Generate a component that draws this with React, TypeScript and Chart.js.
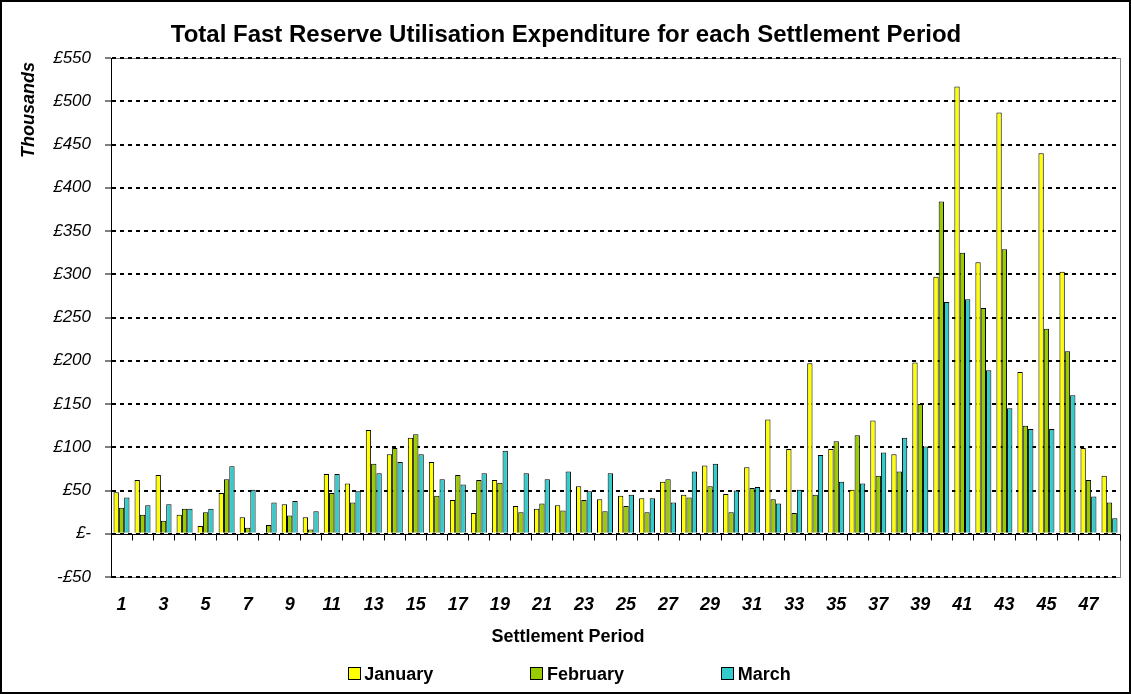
import React, { useEffect, useRef } from 'react';
import { Chart, registerables } from 'chart.js';

Chart.register(...registerables);

const FONT = "'Liberation Sans', Arial, Helvetica, sans-serif";

const chartTitle = 'Total Fast Reserve Utilisation Expenditure for each Settlement Period';
const xAxisTitle = 'Settlement Period';
const yAxisTitle = 'Thousands';

const periods = [
  '1', '2', '3', '4', '5', '6', '7', '8', '9', '10', '11', '12',
  '13', '14', '15', '16', '17', '18', '19', '20', '21', '22', '23', '24',
  '25', '26', '27', '28', '29', '30', '31', '32', '33', '34', '35', '36',
  '37', '38', '39', '40', '41', '42', '43', '44', '45', '46', '47', '48',
];

// Values in £ thousands
const january = [
  48, 62, 68, 22, 9, 47, 19, null, 34, 19, 69, 58,
  120, 92, 111, 83, 39, 24, 62, 32, 29, 33, 55, 40,
  44, 41, 60, 45, 79, 46, 77, 132, 98, 197, 98, 51,
  131, 92, 198, 297, 517, 314, 487, 187, 440, 303, 99, 67,
];
const february = [
  30, 22, 15, 29, 25, 63, 7, 10, 21, 5, 47, 36,
  81, 99, 115, 44, 68, 62, 59, 25, 35, 27, 39, 26,
  32, 25, 63, 42, 55, 25, 53, 40, 24, 45, 107, 114,
  67, 72, 150, 384, 325, 261, 329, 125, 237, 211, 62, 36,
];
const march = [
  42, 33, 34, 29, 29, 78, 51, 36, 38, 26, 69, 49,
  70, 83, 92, 63, 57, 70, 96, 70, 63, 72, 49, 70,
  45, 41, 36, 72, 81, 50, 54, 35, 51, 91, 60, 58,
  94, 111, 101, 268, 271, 189, 145, 121, 121, 160, 43, 18,
];

const seriesNames = ['January', 'February', 'March'];
const seriesColors = ['#FFFF00', '#99CC00', '#33CCCC'];

const Y_MIN = -50;
const Y_MAX = 550;
const Y_STEP = 50;

function formatPounds(v: number): string {
  if (v === 0) return '£-';
  if (v < 0) return '-£' + Math.abs(v);
  return '£' + v;
}

const decorPlugin = {
  id: 'decor',
  beforeDraw(chart: any) {
    const { ctx, width, height, chartArea: a } = chart;
    ctx.save();
    ctx.fillStyle = '#ffffff';
    ctx.fillRect(0, 0, width, height);
    ctx.strokeStyle = '#808080';
    ctx.lineWidth = 1;
    ctx.strokeRect(
      Math.round(a.left) + 0.5,
      Math.round(a.top) + 0.5,
      Math.round(a.right - a.left),
      Math.round(a.bottom - a.top)
    );
    ctx.restore();
  },
  afterDatasetsDraw(chart: any) {
    const { ctx, chartArea: a, scales } = chart;
    const y0 = Math.round(scales.y.getPixelForValue(0)) + 0.5;
    ctx.save();
    ctx.strokeStyle = '#000';
    ctx.lineWidth = 1;
    ctx.beginPath();
    ctx.moveTo(a.left, y0);
    ctx.lineTo(a.right, y0);
    for (let i = 0; i <= periods.length; i++) {
      const x = Math.round(scales.x.getPixelForValue(i - 0.5)) + 0.5;
      ctx.moveTo(x, y0);
      ctx.lineTo(x, y0 + 6);
    }
    ctx.stroke();
    ctx.restore();
  },
  afterDraw(chart: any) {
    const { ctx, width, height } = chart;
    ctx.save();
    ctx.fillStyle = '#000';
    ctx.textAlign = 'center';
    ctx.textBaseline = 'alphabetic';
    ctx.font = `bold 24px ${FONT}`;
    ctx.fillText(chartTitle, 566, 42);
    ctx.font = `bold 18px ${FONT}`;
    ctx.fillText(xAxisTitle, 568, 642);

    ctx.save();
    ctx.translate(34, 110);
    ctx.rotate(-Math.PI / 2);
    ctx.font = `italic bold 18px ${FONT}`;
    ctx.fillText(yAxisTitle, 0, 0);
    ctx.restore();

    // legend
    ctx.font = `bold 18px ${FONT}`;
    ctx.textAlign = 'left';
    let x = 347.5;
    seriesNames.forEach((name, i) => {
      const bx = Math.round(x) + 0.5;
      ctx.fillStyle = seriesColors[i];
      ctx.fillRect(bx, 667.5, 12, 12);
      ctx.strokeStyle = '#000';
      ctx.lineWidth = 1;
      ctx.strokeRect(bx, 667.5, 12, 12);
      ctx.fillStyle = '#000';
      ctx.fillText(name, x + 16.7, 680);
      x += 16.7 + ctx.measureText(name).width + 97;
    });

    // outer border
    ctx.strokeStyle = '#000';
    ctx.lineWidth = 2;
    ctx.strokeRect(1, 1, width - 2, height - 2);
    ctx.restore();
  },
};

export default function App() {
  const canvasRef = useRef<HTMLCanvasElement | null>(null);

  useEffect(() => {
    document.body.style.margin = '0';
    const canvas = canvasRef.current;
    if (!canvas) return;
    const series = [january, february, march];
    const chart = new Chart(canvas, {
      type: 'bar',
      data: {
        labels: periods,
        datasets: seriesNames.map((name, i) => ({
          label: name,
          data: series[i],
          backgroundColor: seriesColors[i],
          borderColor: '#000',
          borderWidth: 1,
          categoryPercentage: 0.76,
          barPercentage: 1,
        })),
      },
      options: {
        responsive: false,
        animation: false,
        layout: { padding: { top: 58, right: 11, left: 0, bottom: 0 } },
        plugins: {
          legend: { display: false },
          title: { display: false },
          tooltip: { enabled: false },
        },
        scales: {
          x: {
            type: 'category',
            grid: { display: false, drawTicks: false },
            border: { display: false },
            ticks: {
              autoSkip: false,
              maxRotation: 0,
              minRotation: 0,
              padding: 17,
              color: '#000',
              font: { family: FONT, size: 18, style: 'italic', weight: 'bold' },
              callback: (_v: any, i: number) => (i % 2 === 0 ? periods[i] : ''),
            },
            afterFit: (s: any) => {
              s.height = 117;
            },
          },
          y: {
            min: Y_MIN,
            max: Y_MAX,
            ticks: {
              stepSize: Y_STEP,
              padding: 14,
              color: '#000',
              font: { family: FONT, size: 17, style: 'italic' },
              callback: (v: any) => formatPounds(Number(v)),
            },
            grid: { color: '#000', lineWidth: 2, tickLength: 6, tickWidth: 1, tickColor: '#000' },
            border: { display: true, color: '#000', width: 1, dash: [4, 4] },
            afterFit: (s: any) => {
              s.width = 111;
            },
          },
        },
      } as any,
      plugins: [decorPlugin],
    });
    return () => chart.destroy();
  }, []);

  return (
    <div style={{ width: 1131, height: 694 }}>
      <canvas ref={canvasRef} width={1131} height={694} style={{ display: 'block' }} />
    </div>
  );
}
